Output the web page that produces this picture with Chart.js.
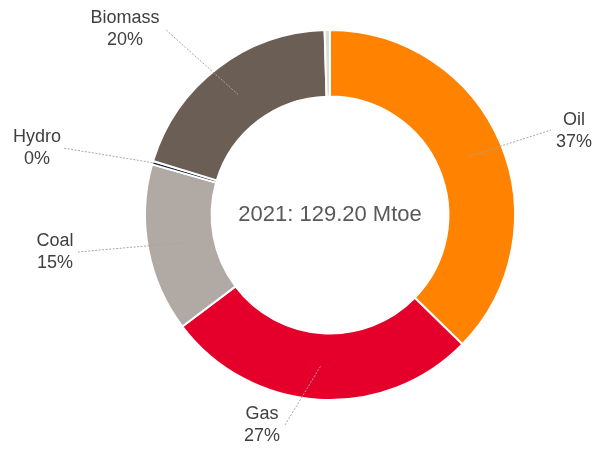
<!DOCTYPE html>
<html>
<head>
<meta charset="utf-8">
<script src="https://cdn.jsdelivr.net/npm/chart.js@4"></script>
<style>
  html, body { margin: 0; padding: 0; background: #fff; }
  #wrap { width: 595px; height: 449px; position: relative; }
</style>
</head>
<body>
<div id="wrap"><canvas id="chart"></canvas></div>
<script>
// energy mix, Mtoe
const labels = ['Oil', 'Gas', 'Coal', 'Hydro', 'Biomass', 'Other'];
const values = [48.2, 35.4, 19.0, 0.4, 25.6, 0.6];
const colors = ['#FF8200', '#E4002B', '#B1A9A4', '#1B2A4A', '#6B5F55', '#DDDCD8'];
const shownLabels = ['Oil', 'Gas', 'Coal', 'Hydro', 'Biomass'];
const centerText = '2021: 129.20 Mtoe';

// label placement relative to the doughnut centre: [text dx, text dy, line end dx, line end dy]
const labelSpots = {
    Oil: [244, -84, 221, -85],
    Gas: [-68, 210, -45, 210],
    Coal: [-275, 37, -252, 37],
    Hydro: [-293, -67, -267, -67],
    Biomass: [-205, -186, -165, -186]
};

const total = values.reduce((a, b) => a + b, 0);

const calloutPlugin = {
    id: 'callouts',
    afterDatasetsDraw(chart) {
        let ctx = chart.ctx;
        let meta = chart.getDatasetMeta(0);
        let first = meta.data[0];
        let cx = first.x, cy = first.y;

        ctx.save();
        // centre text
        ctx.fillStyle = '#595959';
        ctx.font = '22px "Liberation Sans", Arial, sans-serif';
        ctx.textAlign = 'center';
        ctx.textBaseline = 'middle';
        ctx.fillText(centerText, cx, cy);

        shownLabels.forEach(function (name) {
            let i = labels.indexOf(name);
            let arc = meta.data[i];
            let spot = labelSpots[name];
            let p;
            if (name === 'Hydro') {
                let mid = (arc.startAngle + arc.endAngle) / 2;
                p = { x: cx + Math.cos(mid) * arc.outerRadius, y: cy + Math.sin(mid) * arc.outerRadius };
            } else {
                p = arc.tooltipPosition();
            }
            ctx.strokeStyle = '#a6a6a6';
            ctx.lineWidth = 1;
            ctx.setLineDash([2, 1.5]);
            ctx.beginPath();
            ctx.moveTo(p.x, p.y);
            ctx.lineTo(cx + spot[2], cy + spot[3]);
            ctx.stroke();

            let pct = Math.round(values[i] / total * 100) + '%';
            ctx.fillStyle = '#404040';
            ctx.font = '18px "Liberation Sans", Arial, sans-serif';
            ctx.fillText(name, cx + spot[0], cy + spot[1] - 11);
            ctx.fillText(pct, cx + spot[0], cy + spot[1] + 11);
        });
        ctx.restore();
    }
};

let ctx = document.getElementById('chart').getContext('2d');
window.doughnut = new Chart(ctx, {
    type: 'doughnut',
    data: {
        labels: labels,
        datasets: [{
            data: values,
            backgroundColor: colors,
            borderColor: '#ffffff',
            borderWidth: 2
        }]
    },
    options: {
        responsive: true,
        maintainAspectRatio: false,
        animation: false,
        cutout: '64%',
        layout: { padding: { top: 29, bottom: 48, left: 144, right: 79 } },
        plugins: {
            legend: { display: false },
            tooltip: { enabled: false }
        }
    },
    plugins: [calloutPlugin]
});
</script>
</body>
</html>
